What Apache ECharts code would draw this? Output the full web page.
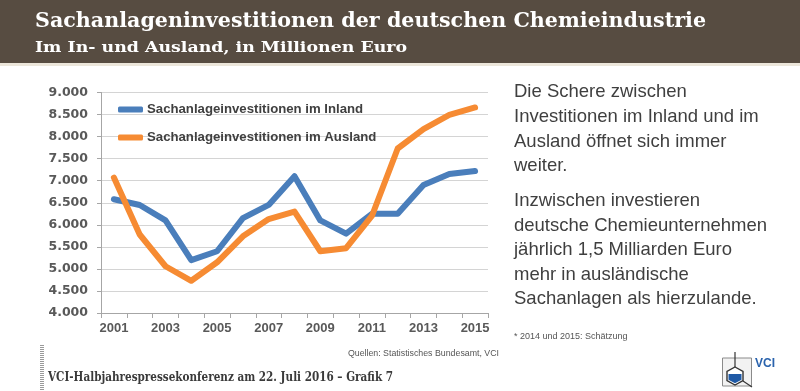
<!DOCTYPE html>
<html><head><meta charset="utf-8">
<script src="https://cdn.jsdelivr.net/npm/echarts@6/dist/echarts.min.js"></script>
<style>html,body{margin:0;padding:0;background:#fff}#c{width:800px;height:391px}</style>
</head><body><div id="c"></div>
<script>
var years = ['2001','2002','2003','2004','2005','2006','2007','2008','2009','2010','2011','2012','2013','2014','2015'];
var inland = [6580,6450,6100,5200,5400,6150,6450,7100,6100,5800,6250,6250,6900,7150,7220];
var ausland = [7070,5780,5060,4730,5150,5740,6130,6300,5400,5470,6200,7730,8170,8490,8660];
var seriesNames = ['Sachanlageinvestitionen im Inland','Sachanlageinvestitionen im Ausland'];
var yTicks = {min:4000, max:9000, interval:500};
var titleText = 'Sachanlageninvestitionen der deutschen Chemieindustrie';
var subtitleText = 'Im In- und Ausland, in Millionen Euro';
var para1 = 'Die Schere zwischen\nInvestitionen im Inland und im\nAusland öffnet sich immer\nweiter.';
var para2 = 'Inzwischen investieren\ndeutsche Chemieunternehmen\njährlich 1,5 Milliarden Euro\nmehr in ausländische\nSachanlagen als hierzulande.';
var footnote = '* 2014 und 2015: Schätzung';
var sourceText = 'Quellen: Statistisches Bundesamt, VCI';
var footerText = 'VCI-Halbjahrespressekonferenz am 22. Juli 2016 \u2013 Grafik 7';

function fitScale(text, font, target){
  var c = document.createElement('canvas').getContext('2d');
  c.font = font; var w = c.measureText(text).width; return target / w;
}
var serif = '"DejaVu Serif", serif';
var tFont = 'bold 20.5px ' + serif, sFont = 'bold 15.5px ' + serif, ftFont = 'bold 12px ' + serif;
var tScale = fitScale(titleText, tFont, 671);
var sScale = fitScale(subtitleText, sFont, 372);
var fScale = fitScale(footerText, ftFont, 345);

var chart = echarts.init(document.getElementById('c'), null, {renderer:'canvas'});
function fmt(v){ return String(v).replace(/(\d)(\d{3})$/, '$1.$2'); }
var dotted = [];
for (var i=0;i<23;i++){ dotted.push({type:'rect', shape:{x:40,y:345+i*2,width:4,height:1}, style:{fill:'#9a9a9a'}}); }

chart.setOption({
  backgroundColor:'#ffffff',
  animation:false,
  grid:{left:101, right:312, top:92.5, bottom:78},
  legend:{
    orient:'vertical', left:118, top:103, padding:0, itemGap:15, itemWidth:25, itemHeight:6,
    icon:'roundRect',
    textStyle:{fontFamily:'"Liberation Sans", Arial, sans-serif', fontWeight:'bold', fontSize:13.2, color:'#404040', padding:[0,0,0,-1]},
    data:seriesNames
  },
  xAxis:{
    type:'category', data:years, boundaryGap:true,
    axisLine:{lineStyle:{color:'#a6a6a6', width:1}},
    axisTick:{show:true, interval:0, length:5, lineStyle:{color:'#a6a6a6'}},
    axisLabel:{interval:1, margin:9, fontFamily:'"Liberation Sans", Arial, sans-serif', fontWeight:'bold', fontSize:13, color:'#595959'}
  },
  yAxis:{
    type:'value', min:yTicks.min, max:yTicks.max, interval:yTicks.interval,
    axisLine:{show:true, lineStyle:{color:'#a6a6a6'}},
    axisTick:{show:true, length:4, lineStyle:{color:'#a6a6a6'}},
    splitLine:{lineStyle:{color:'#d4d4d4', width:1}},
    axisLabel:{margin:13, formatter:fmt, fontFamily:'"DejaVu Sans", "Liberation Sans", sans-serif', fontWeight:'bold', fontSize:12.5, color:'#595959'}
  },
  series:[
    {name:seriesNames[0], type:'line', data:inland, symbol:'none', z:3, lineStyle:{color:'#4a7ebb', width:6, join:'round', cap:'round'}, itemStyle:{color:'#4a7ebb'}},
    {name:seriesNames[1], type:'line', data:ausland, symbol:'none', z:4, lineStyle:{color:'#f68b33', width:6, join:'round', cap:'round'}, itemStyle:{color:'#f68b33'}}
  ],
  graphic:[
    {type:'rect', shape:{x:0,y:0,width:800,height:63}, style:{fill:'#574c41'}, z:-1},
    {type:'rect', shape:{x:0,y:63,width:800,height:3}, style:{fill:'#ece6da'}, z:-1},
    {type:'text', x:35, y:22, scaleX:tScale, style:{text:titleText, font:tFont, fill:'#ffffff', verticalAlign:'middle'}},
    {type:'text', x:35, y:47.5, scaleX:sScale, style:{text:subtitleText, font:sFont, fill:'#ffffff', verticalAlign:'middle'}},
    {type:'text', x:514, y:80, style:{text:para1, fontFamily:'"Liberation Sans", Arial, sans-serif', fontSize:18.5, lineHeight:24.6, fill:'#3f3f3f'}},
    {type:'text', x:514, y:189, style:{text:para2, fontFamily:'"Liberation Sans", Arial, sans-serif', fontSize:18.5, lineHeight:24.5, fill:'#3f3f3f'}},
    {type:'text', x:514, y:337, style:{text:footnote, fontFamily:'"Liberation Sans", Arial, sans-serif', fontSize:9, fill:'#555555', verticalAlign:'middle'}},
    {type:'text', x:499, y:354, style:{text:sourceText, fontFamily:'"Liberation Sans", Arial, sans-serif', fontSize:8.8, fill:'#555555', align:'right', verticalAlign:'middle'}},
    {type:'text', x:48, y:378, scaleX:fScale, style:{text:footerText, font:ftFont, fill:'#3a3a3a', verticalAlign:'middle'}},
    {type:'group', children:dotted},
    {type:'rect', shape:{x:722.5,y:358,width:29,height:28}, style:{fill:'#f2f2f2', stroke:'#8a8a8a', lineWidth:1}},
    {type:'line', shape:{x1:735,y1:352,x2:735,y2:367}, style:{stroke:'#333', lineWidth:1.2}},
    {type:'line', shape:{x1:743,y1:381,x2:752,y2:387}, style:{stroke:'#333', lineWidth:1.2}},
    {type:'polygon', shape:{points:[[735,367],[743,371.5],[743,380.5],[735,385],[727,380.5],[727,371.5]]}, style:{fill:'#ffffff', stroke:'#333', lineWidth:1.4}},
    {type:'polygon', shape:{points:[[728.5,374],[741.5,374],[741.5,379.8],[735,383.3],[728.5,379.8]]}, style:{fill:'#1f5aa6'}},
    {type:'text', x:755, y:364, style:{text:'VCI', fontFamily:'"Liberation Sans Narrow","Liberation Sans", Arial, sans-serif', fontWeight:'bold', fontSize:12, fill:'#2a63ad', verticalAlign:'middle'}}
  ]
});
</script></body></html>
